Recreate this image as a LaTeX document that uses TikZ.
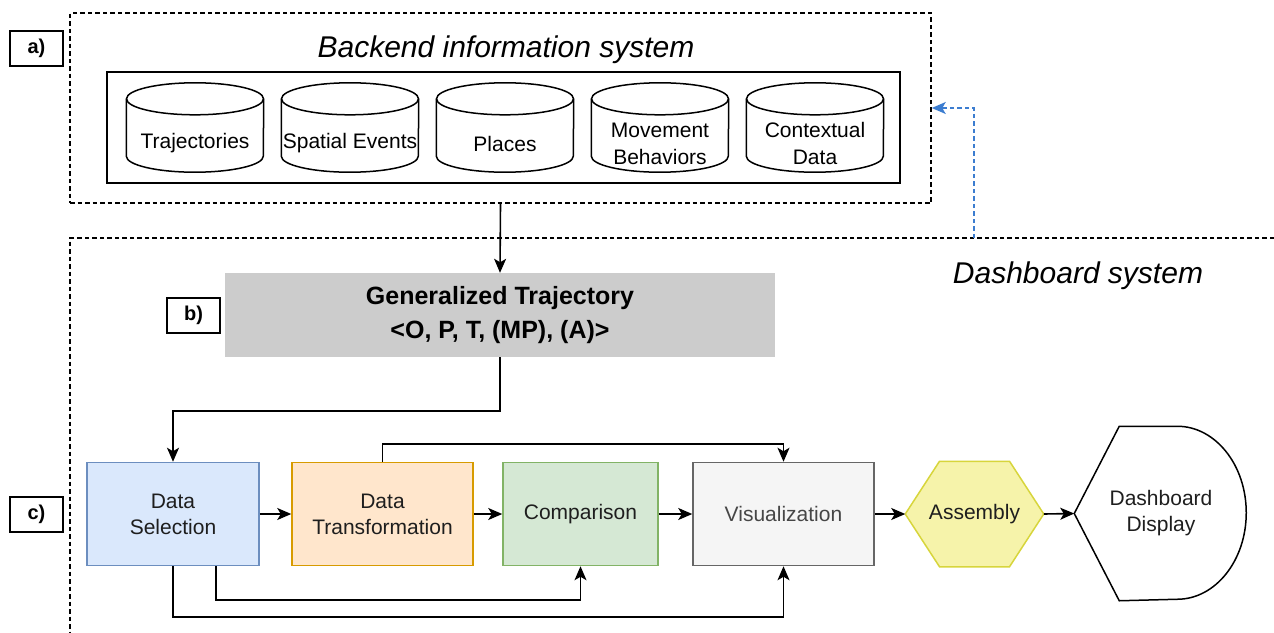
\documentclass[tikz,border=0pt]{standalone}
\usepackage{fontspec}
\setmainfont{Liberation Sans}
\usetikzlibrary{arrows.meta,backgrounds}
\definecolor{dsfill}{HTML}{DAE8FC}\definecolor{dsdraw}{HTML}{6C8EBF}
\definecolor{dtfill}{HTML}{FFE6CC}\definecolor{dtdraw}{HTML}{D79B00}
\definecolor{cmfill}{HTML}{D5E8D4}\definecolor{cmdraw}{HTML}{82B366}
\definecolor{vifill}{HTML}{F5F5F5}\definecolor{vidraw}{HTML}{666666}
\definecolor{asfill}{HTML}{F6F3AA}\definecolor{asdraw}{HTML}{D7D53C}
\definecolor{genfill}{HTML}{CCCCCC}
\definecolor{fbblue}{HTML}{3C7DD0}
\definecolor{txt}{HTML}{1E1E1E}
\newcommand\cylinderaround[1]{%
  \draw[cylline] ([yshift=16pt]#1.north west) -- ([yshift=16pt]#1.south west)
    arc[start angle=180,end angle=360,x radius=68.5pt,y radius=16pt]
    -- ([yshift=16pt]#1.north east);
  \draw[cylline] ([yshift=16pt]#1.north) ellipse[x radius=68.5pt,y radius=16pt];}
\begin{document}
\begin{tikzpicture}[x=1pt,y=-1pt,
  dashbox/.style={draw=black, line width=1.5pt, dash pattern=on 4.5pt off 3pt},
  lab/.style={draw, line width=1.5pt, minimum width=53pt, minimum height=35pt, inner sep=0pt,
     font=\fontsize{20}{20}\selectfont\bfseries},
  cylline/.style={line width=1.5pt},
  cyl/.style={minimum width=137pt, minimum height=57pt, inner sep=0pt, align=center,
     font=\fontsize{21}{27}\selectfont},
  proc/.style={line width=1.5pt, minimum height=103pt, inner sep=2pt, align=center,
     font=\fontsize{21}{26}\selectfont, text=txt},
  arr/.style={line width=1.6pt, -{Stealth[length=14pt,width=12pt,inset=3.5pt]}},
  fb/.style={fbblue, line width=1.5pt, dash pattern=on 4.5pt off 3pt,
     -{Stealth[length=14pt,width=12pt,inset=3.5pt]}},
  ]
\useasboundingbox (0,0) rectangle (1274,632);

% Backend information system
\node[dashbox, minimum width=861pt, minimum height=190pt] (bk) at (500.5,108) {};
\node[font=\fontsize{30}{30}\selectfont\itshape, anchor=base] (bktitle) at (506,57) {Backend information system};
\node[draw, line width=1.5pt, minimum width=793pt, minimum height=111pt] (store) at (503.5,127.5) {};
\node[cyl] (c1) at (195,143.5) {Trajectories};
\node[cyl] (c2) at (350,143.5) {Spatial Events};
\node[cyl] (c3) at (505,143.5) {Places};
\node[cyl] (c4) at (660,143.5) {Movement\\Behaviors};
\node[cyl] (c5) at (815,143.5) {Contextual\\Data};
\cylinderaround{c1}\cylinderaround{c2}\cylinderaround{c3}\cylinderaround{c4}\cylinderaround{c5}

\node[lab] (la) at (36.5,48.5) {a)};

% Dashboard system
\draw[dashbox] (1274,238) -- (70,238) -- (70,632);
\coordinate (fbstart) at (974,238);
\node[font=\fontsize{30}{30}\selectfont\itshape, anchor=base] (dbtitle) at (1078,283) {Dashboard system};

\node[fill=genfill, minimum width=550pt, minimum height=84pt, align=center, text=black,
  font=\fontsize{25}{34}\selectfont\bfseries] (gen) at (500,315)
  {Generalized Trajectory\\<O, P, T, (MP), (A)>};
\node[lab] (lb) at (193.5,315.5) {b)};
\node[lab] (lc) at (36.5,514.5) {c)};

\node[proc, draw=dsdraw, fill=dsfill, minimum width=172pt] (ds) at (173,514) {Data\\Selection};
\node[proc, draw=dtdraw, fill=dtfill, minimum width=181pt] (dt) at (382.5,514) {Data\\Transformation};
\node[proc, draw=cmdraw, fill=cmfill, minimum width=155pt] (cmp) at (580.5,514) {Comparison};
\node[proc, draw=vidraw, fill=vifill, minimum width=181pt, text={rgb,255:red,70;green,70;blue,70}] (vis) at (783.5,514) {Visualization};
\node[proc, minimum width=137pt, minimum height=104pt] (asm) at (974.5,514) {Assembly};
\node[proc, minimum width=172pt, minimum height=173pt] (disp) at (1161,513.5) {Dashboard\\Display};

\begin{scope}[on background layer]
  \draw[line width=1.5pt, draw=asdraw, fill=asfill] (asm.west) -- ([xshift=-35pt]asm.north)
    -- ([xshift=35pt]asm.north) -- (asm.east) -- ([xshift=35pt]asm.south)
    -- ([xshift=-35pt]asm.south) -- cycle;
  \draw[line width=1.5pt] (disp.west) -- ([xshift=45pt]disp.north west)
    -- ([xshift=103pt]disp.north west)
    arc[start angle=90,end angle=-90,x radius=69pt,y radius=86.5pt]
    -- ([xshift=45pt]disp.south west) -- cycle;
\end{scope}

% connectors
\draw[arr] (bk.south) -- (gen.north);
\draw[fb] (fbstart) |- (bk.east);
\draw[arr] (gen.south) -- ++(0,54) -| (ds.north);
\draw[arr] (ds.east) -- (dt.west);
\draw[arr] (dt.east) -- (cmp.west);
\draw[arr] (cmp.east) -- (vis.west);
\draw[arr] (vis.east) -- (asm.west);
\draw[arr] (asm.east) -- (disp.west);
\draw[arr] (dt.north) -- ++(0,-18) -| (vis.north);
\draw[arr] ([xshift=43pt]ds.south) -- ++(0,34) -| (cmp.south);
\draw[arr] (ds.south) -- ++(0,51) -| (vis.south);
\end{tikzpicture}
\end{document}
